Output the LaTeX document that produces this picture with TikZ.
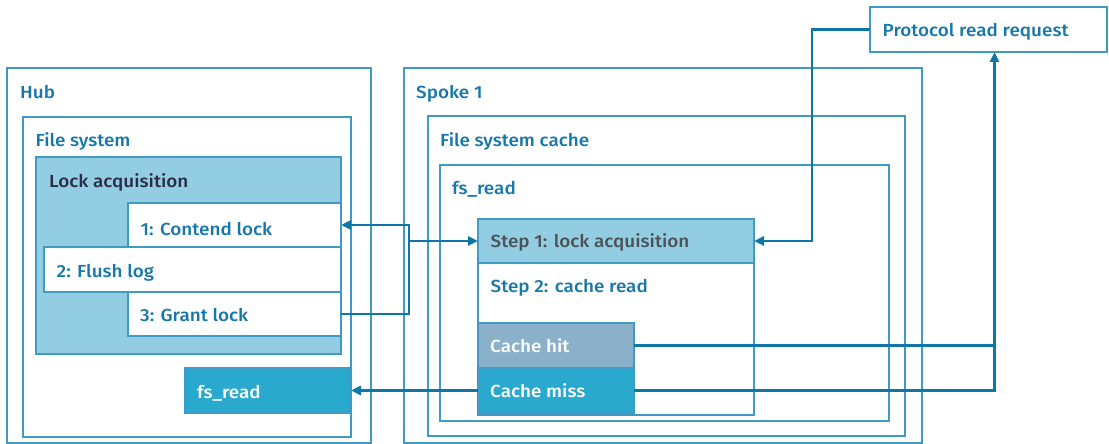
\documentclass[tikz,border=0pt]{standalone}
\usepackage{fontspec}
\setmainfont{Fira Sans Medium}[FakeStretch=1.08]
\usetikzlibrary{arrows.meta}
\definecolor{boxc}{HTML}{3F9BC6}
\definecolor{linec}{HTML}{0E77A8}
\definecolor{titlec}{HTML}{1677A8}
\definecolor{lockfill}{HTML}{93CDE1}
\definecolor{missfill}{HTML}{29A9CD}
\definecolor{hitfill}{HTML}{8BB0C9}
\definecolor{darktext}{HTML}{2A2C48}
\definecolor{steptext}{HTML}{4D5158}
\newcommand{\lblfont}{\fontsize{17.5}{20}\selectfont}
\begin{document}
\begin{tikzpicture}[x=1pt,y=-1pt,
  frame/.style={draw=boxc, line width=1.5pt, fill=white, anchor=north west,
    inner sep=0pt, outer sep=0pt},
  lbl/.style={anchor=base west, inner sep=0pt, text=titlec, font=\lblfont},
  conn/.style={draw=linec, line width=2.5pt},
  tip/.style={-{Triangle[length=10pt,width=9pt]}}
]
\useasboundingbox (0,0) rectangle (1109,444);

% Hub side
\node[frame, minimum width=364pt, minimum height=375pt] (hub) at (7,68) {};
\node[frame, minimum width=328pt, minimum height=320pt] (fsys) at (23,117) {};
\node[frame, fill=lockfill, minimum width=305pt, minimum height=197pt] (lock) at (36,157) {};
\node[frame, minimum width=213pt, minimum height=44pt] (contend) at (128,203) {};
\node[frame, minimum width=297pt, minimum height=45pt] (flush) at (44,247) {};
\node[frame, minimum width=213pt, minimum height=44pt] (grant) at (128,292) {};
\node[frame, fill=missfill, minimum width=166pt, minimum height=45pt] (hubread) at (185,368) {};

\node[lbl] (hubL) at (20,98.5) {Hub};
\node[lbl] (fsysL) at (35.5,146.5) {File system};
\node[lbl, text=darktext] (lockL) at (49,187.5) {Lock acquisition};
\node[lbl] (contendL) at (140.5,235) {1: Contend lock};
\node[lbl] (flushL) at (56.5,277.5) {2: Flush log};
\node[lbl] (grantL) at (140,321.5) {3: Grant lock};
\node[lbl, text=white] (hubreadL) at (197,398.5) {fs\_read};

% Spoke side
\node[frame, minimum width=518pt, minimum height=375pt] (spoke) at (404,68) {};
\node[frame, minimum width=477pt, minimum height=320pt] (cache) at (428,116) {};
\node[frame, minimum width=449pt, minimum height=256pt] (spread) at (440,165) {};
\node[frame, minimum width=276pt, minimum height=152pt] (step2) at (478,263) {};
\node[frame, fill=lockfill, minimum width=276pt, minimum height=44pt] (step1) at (478,219) {};
\node[frame, fill=hitfill, minimum width=156pt, minimum height=45pt] (hit) at (478,323) {};
\node[frame, fill=missfill, minimum width=156pt, minimum height=45pt] (miss) at (478,368) {};

\node[lbl] (spokeL) at (416,98.5) {Spoke 1};
\node[lbl] (cacheL) at (440,146.5) {File system cache};
\node[lbl] (spreadL) at (452,194.5) {fs\_read};
\node[lbl, text=steptext] (step1L) at (490.5,247.5) {Step 1: lock acquisition};
\node[lbl] (step2L) at (490.5,292.5) {Step 2: cache read};
\node[lbl, text=white] (hitL) at (490,352.5) {Cache hit};
\node[lbl, text=white] (missL) at (490,397.5) {Cache miss};

% Request
\node[frame, minimum width=237pt, minimum height=45pt] (proto) at (870,7) {};
\node[lbl] (protoL) at (882.5,36.5) {Protocol read request};

% Connectors
\coordinate (loopx) at (409,0);
\coordinate (reqx) at (812,0);
\coordinate (protoIn) at (994.5,52);

\draw[conn, tip] (grant.east) -| (loopx |- contend.east) -- (contend.east);
\draw[conn, tip] (loopx |- step1.west) -- (step1.west);
\draw[conn, tip] (proto.west) -| (reqx |- step1.east) -- (step1.east);
\draw[conn] (hit.east) -- (hit.east -| protoIn);
\draw[conn, tip] (miss.east) -| (protoIn);
\draw[conn, tip] (miss.west) -- (hubread.east);
\end{tikzpicture}
\end{document}
